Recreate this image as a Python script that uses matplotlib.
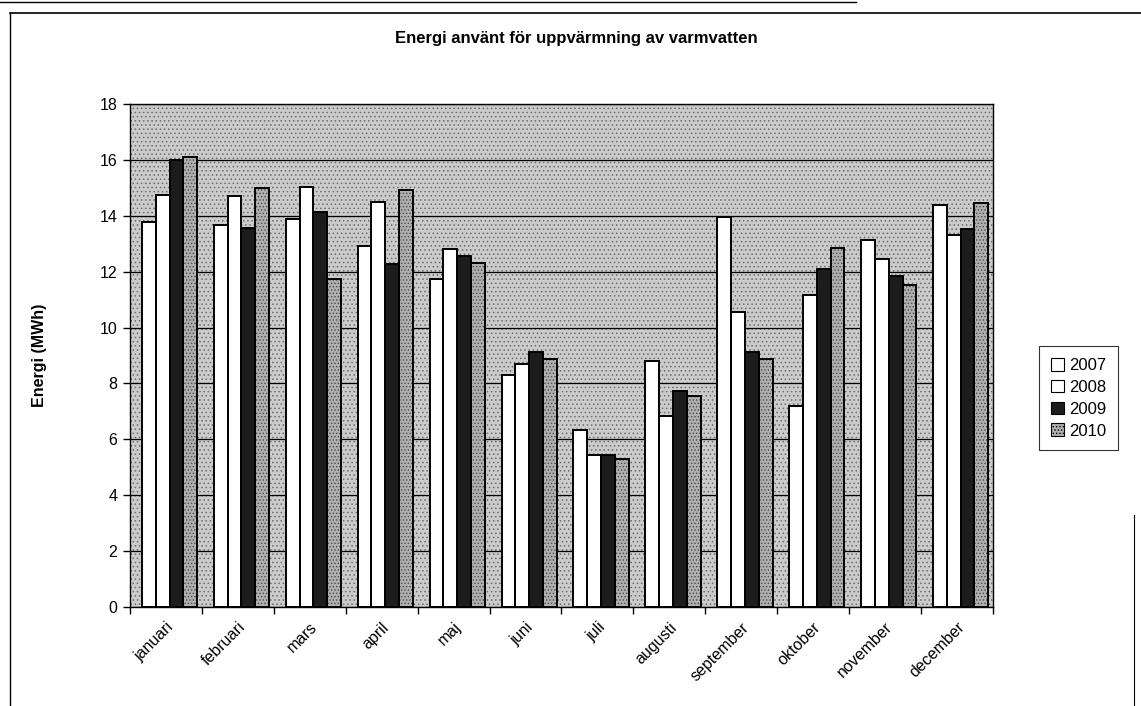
import numpy as np
import matplotlib
matplotlib.use('Agg')
import matplotlib.pyplot as plt
from matplotlib.patches import Patch
from matplotlib.lines import Line2D

plt.rcParams['font.family'] = ['Liberation Sans', 'DejaVu Sans']
plt.rcParams['hatch.linewidth'] = 0.6

months = ['januari', 'februari', 'mars', 'april', 'maj', 'juni', 'juli',
          'augusti', 'september', 'oktober', 'november', 'december']
years = ['2007', '2008', '2009', '2010']

v2007 = [13.76, 13.67, 13.89, 12.91, 11.72, 8.31, 6.34, 8.80, 13.94, 7.18, 13.12, 14.38]
v2008 = [14.73, 14.69, 15.04, 14.50, 12.81, 8.71, 5.44, 6.82, 10.54, 11.15, 12.47, 13.30]
v2009 = [16.00, 13.58, 14.12, 12.26, 12.55, 9.13, 5.44, 7.74, 9.13, 12.08, 11.83, 13.52]
v2010 = [16.10, 15.01, 11.72, 14.93, 12.32, 8.89, 5.30, 7.55, 8.87, 12.86, 11.51, 14.45]

series = [v2007, v2008, v2009, v2010]
faces = ['white', 'white', '#1c1c1c', '#b0b0b0']
hatches = [None, None, None, '.....']
hatch_cols = ['white', 'white', '#1c1c1c', '#4a4a4a']

fig = plt.figure(figsize=(11.41, 7.06), dpi=100)
ax = fig.add_axes([0.1139, 0.1402, 0.7564, 0.7125])

# stippled grey plot area
ax.set_facecolor('#cbcbcb')
bg = plt.Rectangle((0, 0), 1, 1, transform=ax.transAxes, facecolor='none',
                   edgecolor='#6e6e6e', hatch='....', linewidth=0, zorder=0)
ax.add_patch(bg)

x = np.arange(len(months))
w = 0.192
shift = 0.05
for i, vals in enumerate(series):
    pos = x + shift + (i - 1.5) * w
    ax.bar(pos, vals, w, color=faces[i], edgecolor=hatch_cols[i], hatch=hatches[i],
           linewidth=0, zorder=3)
    ax.bar(pos, vals, w, color='none', edgecolor='black', linewidth=1.4, zorder=4)

ax.set_ylim(0, 18)
ax.set_xlim(-0.5, 11.5)
ax.set_yticks(np.arange(0, 19, 2))
ax.yaxis.grid(True, color='black', linewidth=0.9, zorder=1)
ax.set_axisbelow(True)

ax.set_xticks(x)
ax.set_xticklabels(months, rotation=45, ha='right', va='top', rotation_mode='anchor')
ax.set_xticks(np.arange(-0.5, 12, 1), minor=True)
ax.tick_params(axis='x', which='major', length=0, pad=9, labelsize=11.5)
ax.tick_params(axis='x', which='minor', length=5, width=1, direction='out')
ax.tick_params(axis='y', length=5, width=1, direction='out', labelsize=11.5, pad=4)

for s in ax.spines.values():
    s.set_color('black')
    s.set_linewidth(1)

fig.text(0.505, 0.945, 'Energi använt för uppvärmning av varmvatten',
         ha='center', va='center', fontsize=12, fontweight='bold')
fig.text(0.035, 0.497, 'Energi (MWh)', rotation=90, ha='center', va='center',
         fontsize=11.5, fontweight='bold')

handles = [Patch(facecolor=faces[i], edgecolor='black', hatch=hatches[i], linewidth=0.8)
           for i in range(4)]
leg = fig.legend(handles, years, loc='center left', bbox_to_anchor=(0.911, 0.436),
                 fontsize=12, frameon=True, fancybox=False, edgecolor='black',
                 handlelength=0.8, handleheight=0.8, handletextpad=0.3,
                 labelspacing=0.4, borderpad=0.7, borderaxespad=0)
leg.get_frame().set_linewidth(0.8)

# frame around the chart
fig.add_artist(Line2D([0.009, 1.0], [0.982, 0.982], color='black', linewidth=1.2))
fig.add_artist(Line2D([0.0, 0.75], [0.997, 0.997], color='black', linewidth=1.0))
fig.add_artist(Line2D([0.009, 0.009], [0.0, 0.982], color='black', linewidth=1.0))
fig.add_artist(Line2D([0.994, 0.994], [0.0, 0.27], color='black', linewidth=0.8))

fig.savefig('out.png', dpi=100)
